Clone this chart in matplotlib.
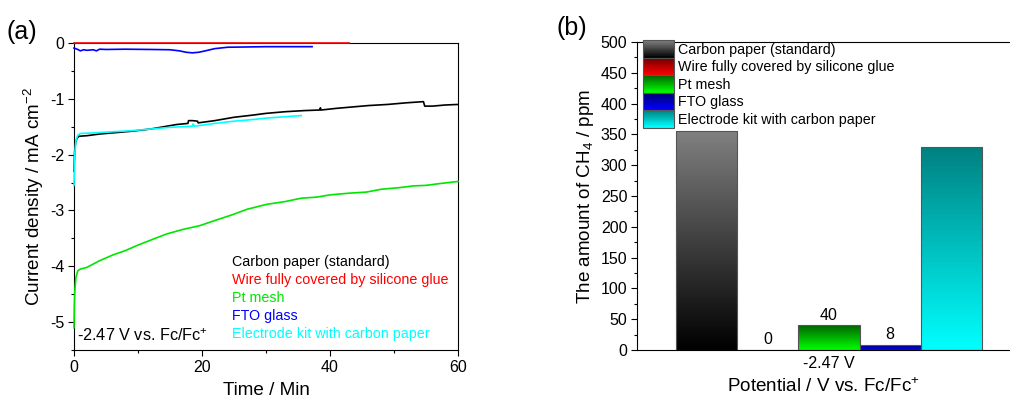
import numpy as np
import matplotlib
matplotlib.use("Agg")
import matplotlib.pyplot as plt
from matplotlib.patches import Rectangle
from matplotlib.legend_handler import HandlerBase
from matplotlib.colors import to_rgb
from matplotlib.ticker import MultipleLocator

plt.rcParams['font.family'] = ['Liberation Sans', 'DejaVu Sans']
plt.rcParams['mathtext.fontset'] = 'custom'
plt.rcParams['mathtext.rm'] = 'Liberation Sans'
plt.rcParams['mathtext.it'] = 'Liberation Sans:italic'

# ---------------- data: panel (a) ----------------
labels = ["Carbon paper (standard)", "Wire fully covered by silicone glue",
          "Pt mesh", "FTO glass", "Electrode kit with carbon paper"]
line_colors = ["#000000", "#ff0000", "#00e600", "#0000ff", "#00ffff"]

t_carbon = [0, 0.1, 0.25, 0.5, 0.8, 2, 4, 6, 9, 12, 14.5, 16, 17.8, 17.9, 18.5, 19.3,
            19.4, 22, 25, 28, 30, 33, 36, 38.4, 38.5, 38.6, 41, 44, 46, 49, 52, 54.6,
            54.8, 56, 58, 60]
j_carbon = [-2.3, -1.95, -1.78, -1.70, -1.67, -1.66, -1.63, -1.61, -1.58, -1.54, -1.49,
            -1.46, -1.44, -1.39, -1.39, -1.40, -1.43, -1.39, -1.33, -1.29, -1.26, -1.23,
            -1.21, -1.20, -1.16, -1.20, -1.17, -1.14, -1.12, -1.10, -1.07, -1.05, -1.13,
            -1.13, -1.11, -1.10]

t_wire = [0, 42.9]
j_wire = [0.0, 0.0]

t_pt = [0, 0.05, 0.15, 0.3, 0.6, 1, 2, 4, 6, 8, 10, 12, 14.5, 17, 19.7, 22, 24.9, 27,
        30.1, 33, 35.5, 38, 40, 43, 45.7, 48, 50.9, 53, 55, 57, 60]
j_pt = [-5.1, -4.7, -4.4, -4.2, -4.08, -4.05, -4.02, -3.90, -3.80, -3.72, -3.62, -3.53,
        -3.42, -3.34, -3.27, -3.18, -3.07, -2.98, -2.89, -2.84, -2.78, -2.76, -2.72,
        -2.69, -2.67, -2.62, -2.59, -2.56, -2.55, -2.52, -2.48]

t_fto = [0, 0.5, 1, 1.5, 2, 3, 3.5, 4, 5, 8, 12, 15, 16.5, 17.5, 18.5, 19.5, 20.5, 22,
         24, 27, 30, 34, 37.2]
j_fto = [-0.09, -0.11, -0.14, -0.12, -0.13, -0.12, -0.14, -0.11, -0.115, -0.11, -0.115,
         -0.12, -0.14, -0.165, -0.175, -0.165, -0.14, -0.10, -0.075, -0.07, -0.065,
         -0.065, -0.065]

t_kit = [0, 0.1, 0.3, 0.6, 1, 3, 6, 9, 12, 15, 18.5, 18.6, 18.8, 22, 25, 28, 30, 33, 35.5]
j_kit = [-2.55, -2.0, -1.75, -1.65, -1.62, -1.61, -1.59, -1.57, -1.54, -1.51, -1.49,
         -1.45, -1.49, -1.44, -1.40, -1.37, -1.345, -1.32, -1.30]

# ---------------- data: panel (b) ----------------
ch4_values = [355, 0, 40, 8, 330]
ch4_labels_shown = ["", "0", "40", "8", ""]
potential_label = "-2.47 V"
grad_top = ["#808080", "#700000", "#006400", "#000070", "#008080"]
grad_bot = ["#000000", "#ff0000", "#00ff00", "#0000ff", "#00ffff"]

fig = plt.figure(figsize=(10.10, 4.03), dpi=100)

# ---------------- panel (a) ----------------
axa = fig.add_axes([74/1010, 1-350/403, 384/1010, 307.5/403])
series = [(t_carbon, j_carbon), (t_wire, j_wire), (t_pt, j_pt), (t_fto, j_fto), (t_kit, j_kit)]
order = [2, 0, 4, 3, 1]
for i in order:
    tt, jj = series[i]
    axa.plot(tt, jj, color=line_colors[i], lw=1.2, clip_on=False, zorder=3)
axa.set_xlim(0, 60)
axa.set_ylim(-5.5, 0.01)
axa.xaxis.set_major_locator(MultipleLocator(20))
axa.xaxis.set_minor_locator(MultipleLocator(10))
axa.yaxis.set_minor_locator(MultipleLocator(0.5))
axa.set_yticks([0, -1, -2, -3, -4, -5])
axa.set_yticklabels(["0", "-1", "-2", "-3", "-4", "-5"])
axa.tick_params(axis='both', which='major', direction='out', length=4, width=0.8,
                labelsize=11.5, pad=3)
axa.tick_params(axis='both', which='minor', direction='out', length=2.5, width=0.8)
for s in axa.spines.values():
    s.set_linewidth(0.8)
axa.set_xlabel("Time / Min", fontsize=13.6, labelpad=5)
axa.set_ylabel(r"Current density / mA cm$^{\mathregular{-2}}$", fontsize=13.6, labelpad=3)
for k, (lab, col) in enumerate(zip(labels, line_colors)):
    axa.text(0.411, 0.285 - k*0.0585, lab, color=col, fontsize=10.3,
             transform=axa.transAxes, va='center', ha='left')
axa.text(0.008, 0.045, r"-2.47 V vs. Fc/Fc$^{\mathregular{+}}$", fontsize=11.7,
         transform=axa.transAxes, va='center', ha='left')
fig.text(7/1010, 1-32/403, "(a)", fontsize=18, va='center', ha='left')

# ---------------- panel (b) ----------------
axb = fig.add_axes([637/1010, 1-350/403, 373/1010, 308/403])
w = 1.0
xpos = [(-2 + k)*w for k in range(5)]
bars = axb.bar(xpos, ch4_values, width=w, color='none', edgecolor='#555555',
               linewidth=0.8, zorder=3)
n = 256
for k, rect in enumerate(bars):
    c0 = np.array(to_rgb(grad_top[k]))
    c1 = np.array(to_rgb(grad_bot[k]))
    f = np.linspace(0, 1, n)[:, None]
    img = (c0*(1-f) + c1*f)[:, None, :]
    x0, y0 = rect.get_x(), rect.get_y()
    hgt = rect.get_height()
    if hgt > 0:
        im = axb.imshow(img, extent=[x0, x0+rect.get_width(), y0, y0+hgt],
                        origin='upper', aspect='auto', zorder=2, interpolation='bilinear')
        im.set_clip_path(rect)
axb.bar_label(bars, labels=ch4_labels_shown, padding=2, fontsize=11.5)
axb.set_xlim(-3.14, 2.96)
axb.set_ylim(0, 500)
axb.set_xticks([0])
axb.set_xticklabels([potential_label])
axb.yaxis.set_major_locator(MultipleLocator(50))
axb.yaxis.set_minor_locator(MultipleLocator(25))
axb.tick_params(axis='y', which='major', direction='out', length=4, width=0.8,
                labelsize=11.5, pad=3)
axb.tick_params(axis='y', which='minor', direction='out', length=2.5, width=0.8)
axb.tick_params(axis='x', which='major', length=0, labelsize=11.5, pad=4)
axb.spines['right'].set_visible(False)
for s in axb.spines.values():
    s.set_linewidth(0.8)
axb.set_xlabel(r"Potential / V vs. Fc/Fc$^{\mathregular{+}}$", fontsize=13.6, labelpad=5)
axb.set_ylabel(r"The amount of CH$_{\mathregular{4}}$ / ppm", fontsize=13.6, labelpad=3)


class GradHandler(HandlerBase):
    def __init__(self, ctop, cbot):
        super().__init__()
        self.ctop = np.array(to_rgb(ctop))
        self.cbot = np.array(to_rgb(cbot))

    def create_artists(self, legend, orig_handle, xdescent, ydescent, width, height,
                       fontsize, trans):
        m = 24
        arts = []
        for i in range(m):
            fr = i/(m-1)
            col = self.ctop*(1-fr) + self.cbot*fr
            y = -ydescent + height*(1 - (i+1)/m)
            arts.append(Rectangle((-xdescent, y), width, height/m*1.05, facecolor=col,
                                  edgecolor='none', transform=trans))
        arts.append(Rectangle((-xdescent, -ydescent), width, height, facecolor='none',
                              edgecolor='#555555', lw=0.8, transform=trans))
        return arts


hmap = {bars[k]: GradHandler(grad_top[k], grad_bot[k]) for k in range(5)}
leg = axb.legend(list(bars), labels, handler_map=hmap, loc='upper left',
                 bbox_to_anchor=(0.012, 1.01), frameon=False, fontsize=10.3,
                 handlelength=2.15, handleheight=1.5, labelspacing=0.0,
                 handletextpad=0.3, borderaxespad=0.0, borderpad=0.1)
fig.text(557/1010, 1-28/403, "(b)", fontsize=18, va='center', ha='left')

fig.savefig("out.png", dpi=100)
